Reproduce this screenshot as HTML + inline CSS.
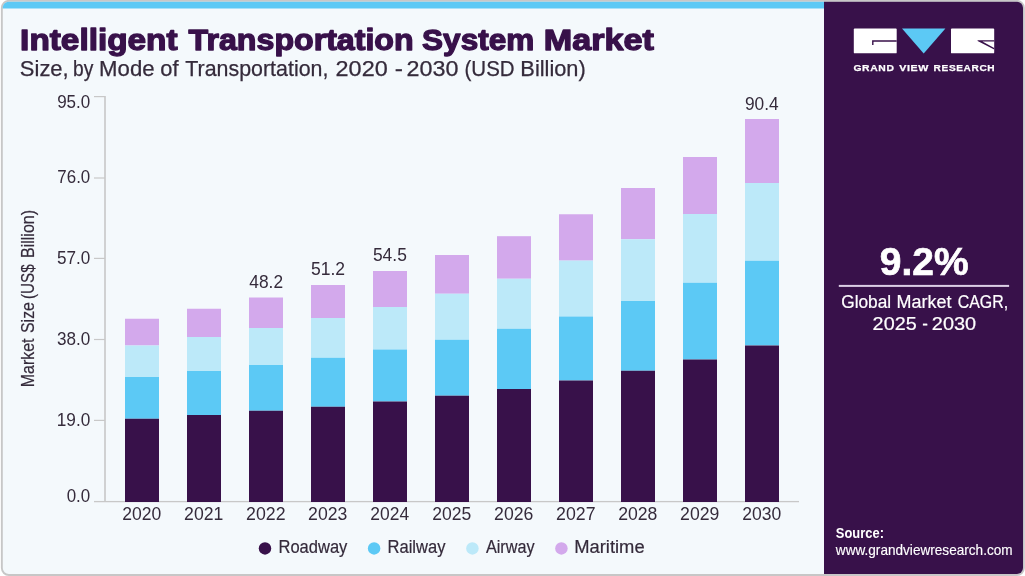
<!DOCTYPE html>
<html lang="en"><head><meta charset="utf-8"><title>Intelligent Transportation System Market</title>
<style>
html,body{margin:0;padding:0;background:#fff;}
body{width:1025px;height:576px;overflow:hidden;font-family:"Liberation Sans",sans-serif;}
svg{display:block}
text{font-family:"Liberation Sans",sans-serif;}
</style></head><body>
<svg width="1025" height="576" viewBox="0 0 1025 576">
<defs><clipPath id="frame"><rect x="2.7" y="1.7" width="1020.3" height="572.4" rx="6" ry="6"/></clipPath></defs>
<rect x="1.85" y="0.85" width="1022" height="574.2" rx="7" ry="7" fill="#f4f9fc" stroke="#c7c7c7" stroke-width="1.9"/>
<g clip-path="url(#frame)">
<rect x="0" y="0" width="824" height="8.5" fill="#5cc9f5"/>
<rect x="824" y="0" width="201" height="576" fill="#38114a"/>
</g>
<rect x="104.2" y="96" width="1.6" height="405.5" fill="#c8c8c8"/>
<rect x="94" y="500.95" width="705" height="1.3" fill="#c8c8c8"/>
<rect x="94" y="96.00" width="11" height="1.2" fill="#c8c8c8"/>
<rect x="94" y="177.40" width="11" height="1.2" fill="#c8c8c8"/>
<rect x="94" y="257.80" width="11" height="1.2" fill="#c8c8c8"/>
<rect x="94" y="338.90" width="11" height="1.2" fill="#c8c8c8"/>
<rect x="94" y="419.80" width="11" height="1.2" fill="#c8c8c8"/>
<rect x="125" y="318.75" width="34" height="26.75" fill="#d3a9ec"/>
<rect x="125" y="345.5" width="34" height="31.50" fill="#bce9f9"/>
<rect x="125" y="377" width="34" height="41.75" fill="#5cc9f5"/>
<rect x="125" y="418.75" width="34" height="83.25" fill="#38114a"/>
<rect x="187" y="308.75" width="34" height="28.25" fill="#d3a9ec"/>
<rect x="187" y="337" width="34" height="34.00" fill="#bce9f9"/>
<rect x="187" y="371" width="34" height="44.00" fill="#5cc9f5"/>
<rect x="187" y="415" width="34" height="87.00" fill="#38114a"/>
<rect x="249" y="297.5" width="34" height="30.50" fill="#d3a9ec"/>
<rect x="249" y="328" width="34" height="37.00" fill="#bce9f9"/>
<rect x="249" y="365" width="34" height="45.75" fill="#5cc9f5"/>
<rect x="249" y="410.75" width="34" height="91.25" fill="#38114a"/>
<rect x="311" y="285" width="34" height="33.00" fill="#d3a9ec"/>
<rect x="311" y="318" width="34" height="39.75" fill="#bce9f9"/>
<rect x="311" y="357.75" width="34" height="49.00" fill="#5cc9f5"/>
<rect x="311" y="406.75" width="34" height="95.25" fill="#38114a"/>
<rect x="373" y="271" width="34" height="36.00" fill="#d3a9ec"/>
<rect x="373" y="307" width="34" height="42.50" fill="#bce9f9"/>
<rect x="373" y="349.5" width="34" height="52.00" fill="#5cc9f5"/>
<rect x="373" y="401.5" width="34" height="100.50" fill="#38114a"/>
<rect x="435" y="255" width="34" height="38.75" fill="#d3a9ec"/>
<rect x="435" y="293.75" width="34" height="46.00" fill="#bce9f9"/>
<rect x="435" y="339.75" width="34" height="55.95" fill="#5cc9f5"/>
<rect x="435" y="395.7" width="34" height="106.30" fill="#38114a"/>
<rect x="497" y="236.2" width="34" height="42.55" fill="#d3a9ec"/>
<rect x="497" y="278.75" width="34" height="50.00" fill="#bce9f9"/>
<rect x="497" y="328.75" width="34" height="60.25" fill="#5cc9f5"/>
<rect x="497" y="389" width="34" height="113.00" fill="#38114a"/>
<rect x="559" y="214.25" width="34" height="46.35" fill="#d3a9ec"/>
<rect x="559" y="260.6" width="34" height="55.90" fill="#bce9f9"/>
<rect x="559" y="316.5" width="34" height="64.00" fill="#5cc9f5"/>
<rect x="559" y="380.5" width="34" height="121.50" fill="#38114a"/>
<rect x="621" y="188" width="34" height="51.25" fill="#d3a9ec"/>
<rect x="621" y="239.25" width="34" height="61.75" fill="#bce9f9"/>
<rect x="621" y="301" width="34" height="69.75" fill="#5cc9f5"/>
<rect x="621" y="370.75" width="34" height="131.25" fill="#38114a"/>
<rect x="683" y="157" width="34" height="57.00" fill="#d3a9ec"/>
<rect x="683" y="214" width="34" height="68.75" fill="#bce9f9"/>
<rect x="683" y="282.75" width="34" height="76.75" fill="#5cc9f5"/>
<rect x="683" y="359.5" width="34" height="142.50" fill="#38114a"/>
<rect x="745" y="119" width="34" height="64.00" fill="#d3a9ec"/>
<rect x="745" y="183" width="34" height="77.75" fill="#bce9f9"/>
<rect x="745" y="260.75" width="34" height="84.75" fill="#5cc9f5"/>
<rect x="745" y="345.5" width="34" height="156.50" fill="#38114a"/>
<circle cx="265" cy="548.4" r="6.25" fill="#38114a"/>
<circle cx="374.1" cy="548.4" r="6.25" fill="#5cc9f5"/>
<circle cx="472.4" cy="548.4" r="6.25" fill="#bce9f9"/>
<circle cx="561.4" cy="548.4" r="6.25" fill="#d3a9ec"/>
<rect x="853.8" y="28.6" width="42.9" height="24.7" rx="0.9" fill="#fff"/>
<path d="M872.1 44.9V40.3H896.7V41.7H873.5V44.9Z" fill="#38114a"/>
<path d="M902 28.6H945.4L923.7 53.5Z" fill="#5cc9f5"/>
<rect x="951" y="28.6" width="43.2" height="24.7" rx="0.9" fill="#fff"/>
<path d="M977.6 40.3H994.2V41.5H982.4L994.2 47.9V49.5L977.6 40.9Z" fill="#38114a"/>
<rect x="838.8" y="284.9" width="170.3" height="2" fill="#dccfe6"/>
<text font-size="29.3" fill="#38114a" font-weight="700" stroke="#38114a" stroke-width="1.3" stroke-linejoin="round" y="50.4"><tspan x="20.14" textLength="157.42" lengthAdjust="spacingAndGlyphs">Intelligent</tspan> <tspan x="188.64" textLength="225.02" lengthAdjust="spacingAndGlyphs">Transportation</tspan> <tspan x="422.14" textLength="112.02" lengthAdjust="spacingAndGlyphs">System</tspan> <tspan x="543.74" textLength="110.12" lengthAdjust="spacingAndGlyphs">Market</tspan></text>
<text font-size="21.2" fill="#352b3b" stroke="#352b3b" stroke-width="0.25" y="75.8"><tspan x="19.88" textLength="48.81" lengthAdjust="spacingAndGlyphs">Size,</tspan> <tspan x="72.96" textLength="20.29" lengthAdjust="spacingAndGlyphs">by</tspan> <tspan x="99.14" textLength="55.41" lengthAdjust="spacingAndGlyphs">Mode</tspan> <tspan x="160.22" textLength="18.25" lengthAdjust="spacingAndGlyphs">of</tspan> <tspan x="185.34" textLength="143.07" lengthAdjust="spacingAndGlyphs">Transportation,</tspan> <tspan x="335.6" textLength="52.09" lengthAdjust="spacingAndGlyphs">2020</tspan> <tspan x="394.8" textLength="8.23" lengthAdjust="spacingAndGlyphs">-</tspan> <tspan x="406.46" textLength="51.95" lengthAdjust="spacingAndGlyphs">2030</tspan> <tspan x="464.54" textLength="50.07" lengthAdjust="spacingAndGlyphs">(USD</tspan> <tspan x="520.36" textLength="65.37" lengthAdjust="spacingAndGlyphs">Billion)</tspan></text>
<text font-size="17.7" fill="#352b3b" y="107.8"><tspan x="57.14" textLength="33.12" lengthAdjust="spacingAndGlyphs">95.0</tspan></text>
<text font-size="17.7" fill="#352b3b" y="183.0"><tspan x="57.34" textLength="32.92" lengthAdjust="spacingAndGlyphs">76.0</tspan></text>
<text font-size="17.7" fill="#352b3b" y="264.0"><tspan x="56.94" textLength="33.32" lengthAdjust="spacingAndGlyphs">57.0</tspan></text>
<text font-size="17.7" fill="#352b3b" y="345.0"><tspan x="56.94" textLength="33.32" lengthAdjust="spacingAndGlyphs">38.0</tspan></text>
<text font-size="17.7" fill="#352b3b" y="426.0"><tspan x="56.74" textLength="33.52" lengthAdjust="spacingAndGlyphs">19.0</tspan></text>
<text font-size="17.7" fill="#352b3b" y="502.0"><tspan x="66.69" textLength="23.57" lengthAdjust="spacingAndGlyphs">0.0</tspan></text>
<text font-size="18.2" fill="#352b3b" stroke="#352b3b" stroke-width="0.2" transform="translate(33.9,386) rotate(-90)"><tspan x="-1.23" textLength="48.76" lengthAdjust="spacingAndGlyphs">Market</tspan> <tspan x="53.03" textLength="30.94" lengthAdjust="spacingAndGlyphs">Size</tspan> <tspan x="86.99" textLength="34.82" lengthAdjust="spacingAndGlyphs">(US$</tspan> <tspan x="127.95" textLength="48.22" lengthAdjust="spacingAndGlyphs">Billion)</tspan></text>
<text font-size="17.6" fill="#352b3b" y="520.1"><tspan x="122.34" textLength="39.01" lengthAdjust="spacingAndGlyphs">2020</tspan></text>
<text font-size="17.6" fill="#352b3b" y="520.1"><tspan x="184.14" textLength="39.21" lengthAdjust="spacingAndGlyphs">2021</tspan></text>
<text font-size="17.6" fill="#352b3b" y="520.1"><tspan x="246.14" textLength="39.41" lengthAdjust="spacingAndGlyphs">2022</tspan></text>
<text font-size="17.8" fill="#352b3b" y="287.7"><tspan x="249.33" textLength="33.74" lengthAdjust="spacingAndGlyphs">48.2</tspan></text>
<text font-size="17.6" fill="#352b3b" y="520.1"><tspan x="308.14" textLength="39.21" lengthAdjust="spacingAndGlyphs">2023</tspan></text>
<text font-size="17.8" fill="#352b3b" y="274.7"><tspan x="310.93" textLength="34.14" lengthAdjust="spacingAndGlyphs">51.2</tspan></text>
<text font-size="17.6" fill="#352b3b" y="520.1"><tspan x="370.34" textLength="38.81" lengthAdjust="spacingAndGlyphs">2024</tspan></text>
<text font-size="17.8" fill="#352b3b" y="260.8"><tspan x="372.93" textLength="33.94" lengthAdjust="spacingAndGlyphs">54.5</tspan></text>
<text font-size="17.6" fill="#352b3b" y="520.1"><tspan x="432.34" textLength="39.01" lengthAdjust="spacingAndGlyphs">2025</tspan></text>
<text font-size="17.6" fill="#352b3b" y="520.1"><tspan x="494.14" textLength="39.21" lengthAdjust="spacingAndGlyphs">2026</tspan></text>
<text font-size="17.6" fill="#352b3b" y="520.1"><tspan x="556.14" textLength="39.41" lengthAdjust="spacingAndGlyphs">2027</tspan></text>
<text font-size="17.6" fill="#352b3b" y="520.1"><tspan x="618.14" textLength="39.21" lengthAdjust="spacingAndGlyphs">2028</tspan></text>
<text font-size="17.6" fill="#352b3b" y="520.1"><tspan x="680.14" textLength="39.21" lengthAdjust="spacingAndGlyphs">2029</tspan></text>
<text font-size="17.6" fill="#352b3b" y="520.1"><tspan x="742.34" textLength="39.01" lengthAdjust="spacingAndGlyphs">2030</tspan></text>
<text font-size="17.8" fill="#352b3b" y="110.0"><tspan x="744.93" textLength="33.74" lengthAdjust="spacingAndGlyphs">90.4</tspan></text>
<text font-size="18.3" fill="#352b3b" stroke="#352b3b" stroke-width="0.2" y="552.9"><tspan x="278.51" textLength="68.83" lengthAdjust="spacingAndGlyphs">Roadway</tspan></text>
<text font-size="18.3" fill="#352b3b" stroke="#352b3b" stroke-width="0.2" y="552.9"><tspan x="387.51" textLength="57.97" lengthAdjust="spacingAndGlyphs">Railway</tspan></text>
<text font-size="18.3" fill="#352b3b" stroke="#352b3b" stroke-width="0.2" y="552.9"><tspan x="485.96" textLength="48.63" lengthAdjust="spacingAndGlyphs">Airway</tspan></text>
<text font-size="18.3" fill="#352b3b" stroke="#352b3b" stroke-width="0.2" y="552.9"><tspan x="574.2" textLength="70.44" lengthAdjust="spacingAndGlyphs">Maritime</tspan></text>
<text font-size="9.8" fill="#fff" font-weight="700" stroke="#fff" stroke-width="0.25" letter-spacing="0.6" y="70.5"><tspan x="853.4" textLength="41.1" lengthAdjust="spacingAndGlyphs">GRAND</tspan> <tspan x="899.2" textLength="29.9" lengthAdjust="spacingAndGlyphs">VIEW</tspan> <tspan x="933.6" textLength="61.7" lengthAdjust="spacingAndGlyphs">RESEARCH</tspan></text>
<text font-size="39" fill="#fff" font-weight="700" stroke="#fff" stroke-width="0.7" y="274.9"><tspan x="879.81" textLength="88.73" lengthAdjust="spacingAndGlyphs">9.2%</tspan></text>
<text font-size="17.6" fill="#fff" stroke="#fff" stroke-width="0.2" y="307.7"><tspan x="841.2" textLength="49.99" lengthAdjust="spacingAndGlyphs">Global</tspan> <tspan x="896.6" textLength="54.95" lengthAdjust="spacingAndGlyphs">Market</tspan> <tspan x="957.7" textLength="50.47" lengthAdjust="spacingAndGlyphs">CAGR,</tspan></text>
<text font-size="17.8" fill="#fff" stroke="#fff" stroke-width="0.2" y="330"><tspan x="872.63" textLength="44.04" lengthAdjust="spacingAndGlyphs">2025</tspan> <tspan x="922.25" textLength="5.64" lengthAdjust="spacingAndGlyphs">-</tspan> <tspan x="931.85" textLength="44.32" lengthAdjust="spacingAndGlyphs">2030</tspan></text>
<text font-size="14.2" fill="#fff" font-weight="700" y="538.1"><tspan x="835.85" textLength="48.1" lengthAdjust="spacingAndGlyphs">Source:</tspan></text>
<text font-size="14.4" fill="#fff" stroke="#fff" stroke-width="0.15" y="555.2"><tspan x="835.84" textLength="176.78" lengthAdjust="spacingAndGlyphs">www.grandviewresearch.com</tspan></text>
</svg></body></html>
